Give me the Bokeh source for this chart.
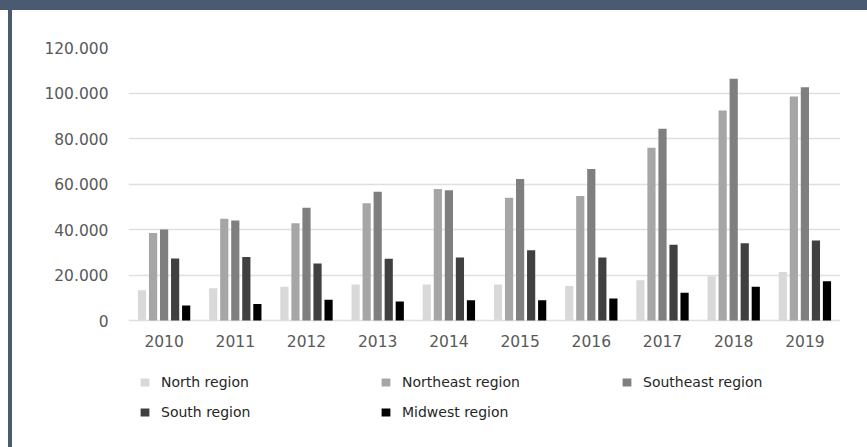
from bokeh.plotting import figure
from bokeh.models import (ColumnDataSource, FactorRange, Range1d, FixedTicker,
                          Legend, LegendItem, Div)
from bokeh.core.properties import value
from bokeh.layouts import column, row
from bokeh.transform import dodge
from bokeh.embed import file_html
from bokeh.resources import INLINE

years = ["2010", "2011", "2012", "2013", "2014", "2015", "2016", "2017", "2018", "2019"]
north = [13300, 14200, 14800, 15800, 15800, 15800, 15200, 17700, 19500, 21300]
northeast = [38500, 44700, 42800, 51500, 57800, 54000, 54700, 75900, 92300, 98500]
southeast = [40000, 44000, 49600, 56600, 57300, 62200, 66600, 84300, 106300, 102500]
south = [27300, 27900, 25100, 27100, 27700, 30900, 27700, 33300, 34000, 35200]
midwest = [6600, 7200, 9100, 8400, 8900, 8900, 9700, 12200, 14800, 17200]

series_names = ["North region", "Northeast region", "Southeast region", "South region", "Midwest region"]
series_keys = ["north", "northeast", "southeast", "south", "midwest"]
colors = ["#d9d9d9", "#a6a6a6", "#7f7f7f", "#404040", "#000000"]

y_ticks = [0, 20000, 40000, 60000, 80000, 100000, 120000]
y_tick_labels = ["0", "20.000", "40.000", "60.000", "80.000", "100.000", "120.000"]

source = ColumnDataSource(data=dict(years=years, base=[0] * len(years), north=north,
                                    northeast=northeast, southeast=southeast,
                                    south=south, midwest=midwest))

W, H = 867, 447
TOP_BAND, LEFT_WHITE, LEFT_BAND = 10, 8, 4
FRAME_COLOR = "#4a5b71"
PW, PH = W - LEFT_WHITE - LEFT_BAND, H - TOP_BAND

# plot area: 120000 at 37px, 0 at 310px (figure coords); frame continues down to hold the legend
TOP_PX, ZERO_PX, BOTTOM_PX = 37, 310, PH - 5
Y_MAX = 120000
y_min = -Y_MAX * (BOTTOM_PX - ZERO_PX) / (ZERO_PX - TOP_PX)

p = figure(width=PW, height=PH, x_range=FactorRange(*years, range_padding=0),
           y_range=Range1d(y_min, Y_MAX), output_backend="svg", toolbar_location=None,
           x_axis_location=None,
           min_border_left=116, min_border_right=27, min_border_top=TOP_PX,
           min_border_bottom=PH - BOTTOM_PX)
p.outline_line_color = None
p.background_fill_color = "white"
p.border_fill_color = "white"

offsets = [-0.31, -0.155, 0.0, 0.155, 0.31]
renderers = []
for key, off, col in zip(series_keys, offsets, colors):
    r = p.vbar(x=dodge("years", off, range=p.x_range), top=key, width=0.115,
               source=source, fill_color=col, line_color=None)
    renderers.append(r)

# category labels under the baseline
p.text(x="years", y="base", text="years", source=source, text_align="center",
       text_baseline="middle", y_offset=20, text_font=value("DejaVu Sans"),
       text_font_size="15.5px", text_color="#595959")

# y axis
p.yaxis.ticker = FixedTicker(ticks=y_ticks)
p.yaxis.major_label_overrides = {t: l for t, l in zip(y_ticks, y_tick_labels)}
p.yaxis.axis_line_color = None
p.yaxis.major_tick_line_color = None
p.yaxis.minor_tick_line_color = None
p.yaxis.major_label_standoff = 14
p.yaxis.major_label_text_font = "DejaVu Sans"
p.yaxis.major_label_text_font_size = "15.5px"
p.yaxis.major_label_text_color = "#595959"

p.xgrid.grid_line_color = None
p.ygrid.ticker = FixedTicker(ticks=y_ticks)
p.ygrid.grid_line_color = "#e0e0e0"
p.ygrid.grid_line_width = 1.5

legend = Legend(items=[LegendItem(label=n, renderers=[r]) for n, r in zip(series_names, renderers)],
                orientation="horizontal", ncols=3, location=(11, 20))
legend.glyph_width = 11
legend.glyph_height = 10
legend.label_standoff = 11
legend.label_width = 210
legend.label_height = 21
legend.spacing = 9
legend.padding = 0
legend.margin = 0
legend.border_line_color = None
legend.background_fill_alpha = 0
legend.label_text_font = "DejaVu Sans"
legend.label_text_font_size = "14px"
legend.label_text_color = "#262626"
p.add_layout(legend, "center")

top_band = Div(text="", width=W, height=TOP_BAND, margin=0,
               styles={"background-color": FRAME_COLOR})
left_white = Div(text="", width=LEFT_WHITE, height=PH, margin=0,
                 styles={"background-color": "white"})
left_band = Div(text="", width=LEFT_BAND, height=PH, margin=0,
                styles={"background-color": FRAME_COLOR})
layout = column(top_band, row(left_white, left_band, p, spacing=0, margin=0),
                spacing=0, margin=0)

open("out.html", "w").write(file_html(layout, INLINE))
